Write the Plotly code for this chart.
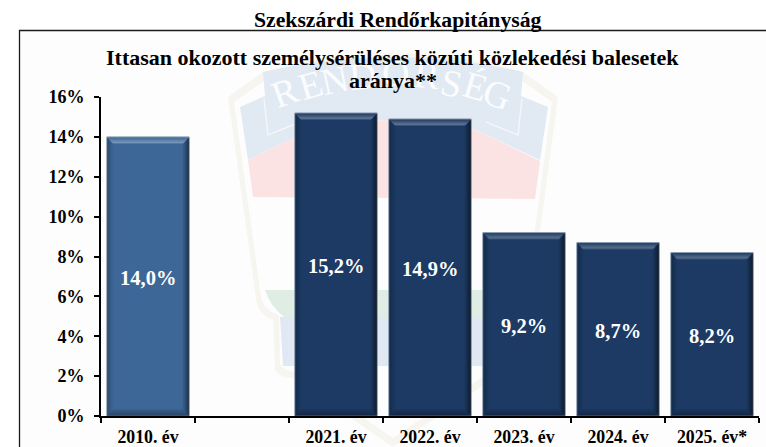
import plotly.graph_objects as go

categories = ["2010. év", " ", "2021. év", "2022. év", "2023. év", "2024. év", "2025. év*"]
values = [14.0, None, 15.2, 14.9, 9.2, 8.7, 8.2]
colors = ["#3d6797", "#1c3a63", "#1c3a63", "#1c3a63", "#1c3a63", "#1c3a63", "#1c3a63"]
y_ticks = [0, 2, 4, 6, 8, 10, 12, 14, 16]
page_title = "Szekszárdi Rendőrkapitányság"
chart_title_lines = ["Ittasan okozott személysérüléses közúti közlekedési balesetek", "aránya**"]
crest_word = "RENDŐRSÉG"

W, H = 766, 447
L, R, T, B = 101, 759, 97, 416
FONT = "Liberation Serif"
GAP = 0.125
px_x = (R - L) / len(categories)
px_y = (B - T) / 16


def fx(x):
    return x / W


def fy(y):
    return 1 - y / H


def path(points, close=True):
    parts = []
    for i, p in enumerate(points):
        if len(p) == 2:
            parts.append(("M" if i == 0 else "L") + f"{fx(p[0]):.5f},{fy(p[1]):.5f}")
        else:
            parts.append(f"Q{fx(p[0]):.5f},{fy(p[1]):.5f} {fx(p[2]):.5f},{fy(p[3]):.5f}")
    return " ".join(parts) + (" Z" if close else "")


def crest(points, fill, line=None, lw=0):
    return dict(type="path", xref="paper", yref="paper", layer="below", path=path(points, line is None),
                fillcolor=fill, line=dict(color=line or "rgba(0,0,0,0)", width=lw))


shapes = [
    dict(type="rect", xref="paper", yref="paper", layer="below", x0=fx(19.5), x1=1.01, y0=-0.01, y1=fy(30.5),
         fillcolor="#fdfdfd", line=dict(color="#1a1a1a", width=1.3)),
    crest([(228, 97), (263, 72), (393, 34, 523, 72), (558, 97), (531, 298), (529, 315, 512, 320), (511, 368),
           (506, 378, 494, 378), (393, 447), (292, 378), (280, 378, 275, 370), (273, 320), (258, 315, 256, 298)], "#f7f5f0"),
    crest([(234, 102), (268, 78), (393, 42, 518, 78), (552, 102), (526, 296), (524, 310, 507, 315), (506, 364),
           (502, 372, 490, 372), (393, 438), (296, 372), (285, 372, 280, 364), (279, 315), (263, 310, 261, 296)], "#fdfdfd"),
    crest([(240, 107), (265, 96), (263, 72), (393, 42, 523, 72), (521, 96), (548, 107), (540, 160),
           (476, 130), (393, 110, 310, 130), (248, 160)], "#e1e9f3"),
    crest([(248, 160), (310, 130), (393, 110, 476, 130), (540, 161), (535, 199), (253, 197)], "#fbe3e3"),
    crest([(265, 290), (521, 290), (516, 306, 500, 318), (285, 318), (270, 306, 265, 290)], "#e0ede5"),
    crest([(280, 317), (508, 317), (506, 366), (283, 366)], "#dfe8f3"),
    crest([(264, 98), (268, 135), (300, 122)], "rgba(0,0,0,0)", "#f3f6fa", 1.5),
    crest([(522, 98), (518, 135), (486, 122)], "rgba(0,0,0,0)", "#f3f6fa", 1.5),
]

# Bevelled bar edges, derived from each bar's value
RINGS = 7
half = (1 - GAP) / 2
top_alpha = [0.03, 0.07, 0.12, 0.18, 0.24, 0.28, 0.12]
side_alpha = [0.55, 0.45, 0.35, 0.26, 0.18, 0.10, 0.04]
left_alpha = [0.30, 0.22, 0.16, 0.11, 0.07, 0.04, 0.02]
bottom_alpha = [0.34, 0.28, 0.24, 0.20, 0.16, 0.12, 0.06]
for i, v in enumerate(values):
    if v is None:
        continue
    for k in range(RINGS):
        dx0, dx1 = k / px_x, (k + 1) / px_x
        dy0, dy1 = k / px_y, (k + 1) / px_y
        x_l, x_r = i - half, i + half
        common = dict(type="rect", xref="x", yref="y", layer="above", line=dict(width=0))
        shapes += [
            dict(common, x0=x_l + dx0, x1=x_r - dx0, y0=v - dy1, y1=v - dy0, fillcolor="white", opacity=top_alpha[k]),
            dict(common, x0=x_l + dx0, x1=x_r - dx0, y0=dy0, y1=dy1, fillcolor="black", opacity=bottom_alpha[k]),
            dict(common, x0=x_l + dx0, x1=x_l + dx1, y0=dy1, y1=v - dy1, fillcolor="black", opacity=left_alpha[k]),
            dict(common, x0=x_r - dx1, x1=x_r - dx0, y0=dy1, y1=v - dy1, fillcolor="black", opacity=side_alpha[k]),
        ]

letter_x = [285, 310, 334, 362, 395, 427, 451, 475, 497]
letter_y = [92, 85, 80, 76, 73, 75, 83, 86, 94]
letter_rot = [-20, -16, -12, -6, 0, 6, 12, 16, 20]
annotations = [
    dict(text=c, xref="paper", yref="paper", x=fx(px), y=fy(py), showarrow=False, textangle=rot,
         font=dict(family=FONT, size=38, color="#fbfcfe"), xanchor="center", yanchor="middle")
    for c, px, py, rot in zip(crest_word, letter_x, letter_y, letter_rot)
]
for text, px, py in [(page_title, 398, 20), (chart_title_lines[0], 393, 58), (chart_title_lines[1], 393, 81)]:
    annotations.append(dict(text=f"<b>{text}</b>", xref="paper", yref="paper", x=fx(px), y=fy(py), showarrow=False,
                            font=dict(family=FONT, size=22 if text != page_title else 21.7, color="black"),
                            xanchor="center", yanchor="middle"))
for i, v in enumerate(values):
    if v is None:
        continue
    annotations.append(dict(text="<b>" + f"{v:.1f}%".replace(".", ",") + "</b>", x=i, y=v / 2, xref="x", yref="y",
                            yshift=-2, showarrow=False, font=dict(family=FONT, size=20.5, color="white"),
                            xanchor="center", yanchor="middle"))

fig = go.Figure(
    go.Bar(
        x=categories,
        y=values,
        marker=dict(color=colors, line=dict(color="#8a9bb0", width=1)),
        hoverinfo="skip",
        showlegend=False,
    )
)
fig.update_layout(
    template="none",
    width=W,
    height=H,
    autosize=False,
    margin=dict(l=0, r=0, t=0, b=0, pad=0),
    paper_bgcolor="white",
    plot_bgcolor="rgba(0,0,0,0)",
    bargap=GAP,
    shapes=shapes,
    annotations=annotations,
    font=dict(family=FONT, color="black"),
)
fig.update_xaxes(
    type="category",
    automargin=False,
    categoryorder="array",
    categoryarray=categories,
    domain=[L / W, R / W],
    tickson="boundaries",
    ticks="outside",
    ticklen=5,
    tickwidth=1.5,
    tickcolor="black",
    showline=True,
    linecolor="black",
    linewidth=2,
    showgrid=False,
    tickangle=0,
    tickmode="array",
    tickvals=categories,
    ticktext=[f"<b>{c}</b>" for c in categories],
    tickfont=dict(family=FONT, size=17.8, color="black"),
    ticklabelstandoff=4,
)
fig.update_yaxes(
    automargin=False,
    domain=[1 - B / H, 1 - T / H],
    range=[0, 16],
    tickmode="array",
    tickvals=y_ticks,
    ticktext=[f"<b>{t}%</b>" for t in y_ticks],
    ticks="outside",
    ticklen=5,
    tickwidth=1.5,
    tickcolor="black",
    showline=True,
    linecolor="black",
    linewidth=2,
    showgrid=False,
    zeroline=False,
    tickfont=dict(family=FONT, size=18, color="black"),
    ticklabelstandoff=6,
)
fig.write_html("out.html", config={"displayModeBar": False},
               post_script="document.body.style.margin='0';document.body.style.overflow='hidden';")
